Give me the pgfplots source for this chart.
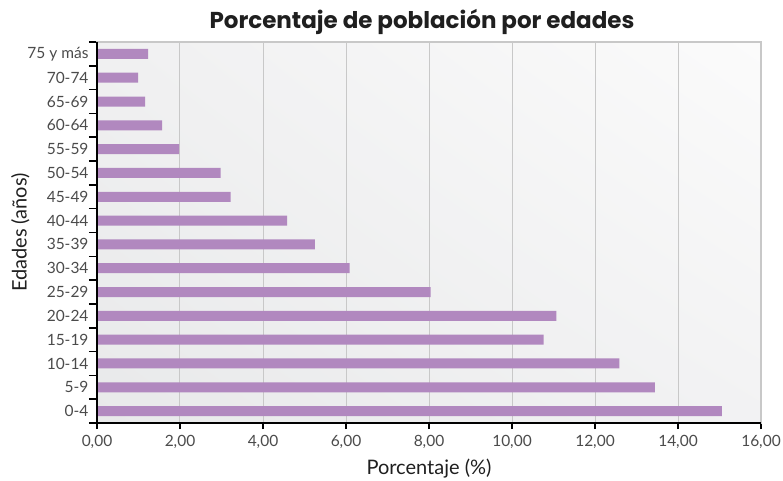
\documentclass[border=0pt]{standalone}
\usepackage{fontspec}
\setmainfont{Lato}
\newfontfamily\titlefont{Poppins}
\usepackage{pgfplots}
\pgfplotsset{compat=1.18}
\usetikzlibrary{shadings}

\definecolor{barpurple}{RGB}{177,136,191}
\definecolor{ticktext}{RGB}{75,75,75}
\definecolor{gridgray}{RGB}{200,200,200}

\begin{document}
\begin{tikzpicture}
\begin{axis}[
    name=main,
    at={(0,0)}, anchor=south west,
    scale only axis,
    width=664bp, height=381bp,
    xbar, bar width=10bp,
    xmin=0, xmax=16,
    ymin=-0.5, ymax=15.5,
    xtick={0,2,...,16},
    ytick={0,...,15},
    yticklabels={0-4,5-9,10-14,15-19,20-24,25-29,30-34,35-39,40-44,45-49,50-54,55-59,60-64,65-69,70-74,75 y más},
    minor ytick={-0.5,0.5,...,15.5},
    xtick pos=bottom, ytick pos=left,
    tick align=outside,
    major tick length=6bp,
    minor tick length=8bp,
    major y tick style={draw=none},
    minor y tick style={draw=black, line width=1.6bp},
    x tick style={draw=black, line width=1.6bp},
    xmajorgrids,
    major grid style={gridgray, line width=1bp},
    axis line style={gridgray, line width=1.2bp},
    axis background/.style={shade, lower left={rgb,255:red,232;green,233;blue,234},
        upper right={rgb,255:red,251;green,251;blue,251},
        upper left={rgb,255:red,240;green,240;blue,241},
        lower right={rgb,255:red,242;green,242;blue,243}},
    tick label style={font=\fontsize{15.5bp}{17bp}\selectfont, text=ticktext},
    /pgf/number format/assume math mode=true,
    xticklabel style={yshift=-3bp, /pgf/number format/.cd, fixed, fixed zerofill, precision=2, use comma, 1000 sep={}},
    yticklabel style={xshift=1bp},
    xlabel={Porcentaje (\%)},
    ylabel={Edades (años)},
    label style={font=\fontsize{20bp}{22bp}\selectfont, text=black!88},
    xlabel style={yshift=-3bp},
    ylabel style={yshift=-9bp},
    clip=false,
]
\addplot[fill=barpurple, draw=none] coordinates {
    (15.06,0) (13.44,1) (12.59,2) (10.76,3) (11.07,4) (8.04,5)
    (6.09,6) (5.25,7) (4.58,8) (3.22,9) (2.98,10) (1.98,11)
    (1.57,12) (1.16,13) (0.99,14) (1.23,15)
};
\draw[black, line width=2.4bp] (rel axis cs:0,1) -- (rel axis cs:0,0) -- (rel axis cs:1,0);
\end{axis}
\node[font=\titlefont\bfseries\fontsize{23bp}{26bp}\selectfont, text=black!88, anchor=base]
    at ([xshift=-7bp,yshift=13bp]main.north) {Porcentaje de población por edades};
\pgfresetboundingbox
\path (-97bp,-58bp) rectangle (686bp,423bp);
\end{tikzpicture}
\end{document}
